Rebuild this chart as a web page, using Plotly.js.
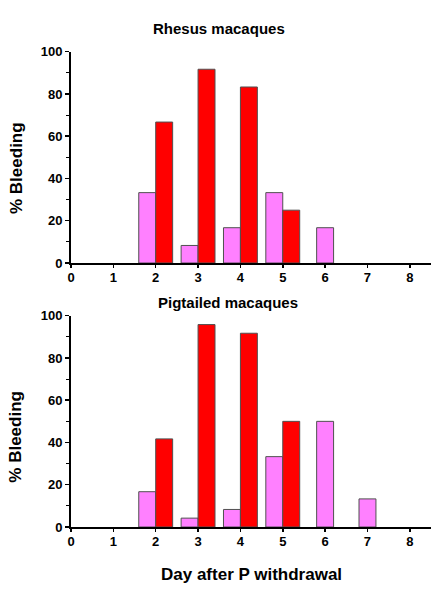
<!DOCTYPE html>
<html>
<head>
<meta charset="utf-8">
<script src="https://cdn.plot.ly/plotly-3.0.1.min.js"></script>
<style>html,body{margin:0;padding:0;background:#fff}#chart{width:439px;height:600px}</style>
</head>
<body>
<div id="chart"></div>
<script>
var days = [2, 3, 4, 5, 6, 7];
var rhesusPink = [33.3, 8.3, 16.7, 33.3, 16.7, null];
var rhesusRed = [66.7, 91.7, 83.3, 25, null, null];
var pigPink = [16.7, 4.2, 8.3, 33.3, 50, 13.3];
var pigRed = [41.7, 95.8, 91.7, 50, null, null];
var xTicks = [0, 1, 2, 3, 4, 5, 6, 7, 8];

var PINK = '#ff80ff', RED = '#ff0000', EDGE = '#505050';
var BW = 0.4;
function pinkOffsets(red) {
  return red.map(function (v) { return v == null ? -BW / 2 : -BW; });
}
function pinkTrace(vals, red, xa, ya) {
  return {type: 'bar', x: days, y: vals, width: BW, offset: pinkOffsets(red),
    xaxis: xa, yaxis: ya, marker: {color: PINK, line: {color: EDGE, width: 1}},
    hoverinfo: 'x+y', showlegend: false};
}
function redTrace(vals, xa, ya) {
  return {type: 'bar', x: days, y: vals, width: BW, offset: 0,
    xaxis: xa, yaxis: ya, marker: {color: RED, line: {color: EDGE, width: 1}},
    hoverinfo: 'x+y', showlegend: false};
}
var data = [
  pinkTrace(rhesusPink, rhesusRed, 'x', 'y'),
  redTrace(rhesusRed, 'x', 'y'),
  pinkTrace(pigPink, pigRed, 'x2', 'y2'),
  redTrace(pigRed, 'x2', 'y2')
];

var FONT = 'Liberation Sans, Arial, sans-serif';
var W = 439, H = 600;
var xd = [71 / W, 431 / W];
function xAxis(anchor) {
  return {domain: xd, anchor: anchor, range: [0, 8.5], tickvals: xTicks,
    ticktext: xTicks.map(String), ticks: 'outside', ticklen: 3, tickwidth: 1.5,
    ticklabelstandoff: -2,
    tickcolor: '#000', showline: true, linecolor: '#000', linewidth: 2,
    showgrid: false, zeroline: false,
    tickfont: {family: FONT, size: 13, color: '#000', weight: 'bold'}};
}
function yAxis(anchor, top, bottom) {
  return {domain: [1 - bottom / H, 1 - top / H], anchor: anchor, range: [0, 100],
    dtick: 20, tick0: 0, ticks: 'outside', ticklen: 4, tickwidth: 1.5, tickcolor: '#000',
    minor: {dtick: 10, ticks: 'outside', ticklen: 3, tickwidth: 1, tickcolor: '#000'},
    showline: true, linecolor: '#000', linewidth: 2, showgrid: false, zeroline: false,
    tickfont: {family: FONT, size: 13, color: '#000', weight: 'bold'}};
}

var layout = {
  width: W, height: H, margin: {l: 0, r: 0, t: 0, b: 0},
  paper_bgcolor: '#fff', plot_bgcolor: 'rgba(0,0,0,0)',
  barmode: 'overlay', showlegend: false,
  xaxis: xAxis('y'),
  yaxis: yAxis('x', 51.7, 263),
  xaxis2: xAxis('y2'),
  yaxis2: yAxis('x2', 315.7, 527),
  annotations: [
    {text: 'Rhesus macaques', xref: 'paper', yref: 'paper', x: 219 / W, y: 1 - 28.5 / H,
      showarrow: false, xanchor: 'center', yanchor: 'middle',
      font: {family: FONT, size: 15, color: '#000', weight: 'bold'}},
    {text: 'Pigtailed macaques', xref: 'paper', yref: 'paper', x: 228 / W, y: 1 - 302.7 / H,
      showarrow: false, xanchor: 'center', yanchor: 'middle',
      font: {family: FONT, size: 15, color: '#000', weight: 'bold'}},
    {text: '% Bleeding', xref: 'paper', yref: 'paper', x: 16 / W, y: 1 - 168 / H,
      textangle: -90, showarrow: false, xanchor: 'center', yanchor: 'middle',
      font: {family: FONT, size: 17, color: '#000', weight: 'bold'}},
    {text: '% Bleeding', xref: 'paper', yref: 'paper', x: 16 / W, y: 1 - 436.7 / H,
      textangle: -90, showarrow: false, xanchor: 'center', yanchor: 'middle',
      font: {family: FONT, size: 17, color: '#000', weight: 'bold'}},
    {text: 'Day after P withdrawal', xref: 'paper', yref: 'paper', x: 251 / W, y: 1 - 574 / H,
      showarrow: false, xanchor: 'center', yanchor: 'middle',
      font: {family: FONT, size: 17, color: '#000', weight: 'bold'}}
  ]
};
Plotly.newPlot('chart', data, layout, {displayModeBar: false, staticPlot: true});
</script>
</body>
</html>
